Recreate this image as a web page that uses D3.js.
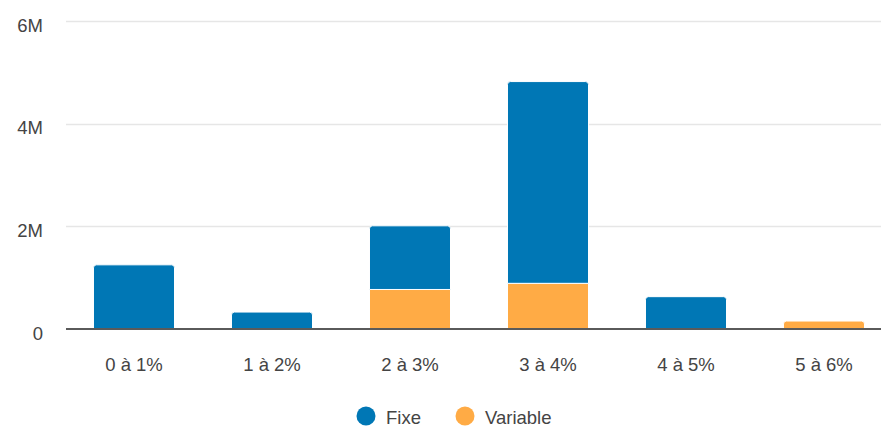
<!DOCTYPE html>
<html>
<head>
<meta charset="utf-8">
<script src="https://cdn.jsdelivr.net/npm/d3@7"></script>
<style>
  html, body { margin: 0; padding: 0; background: #fff; }
  svg { display: block; font-family: "Liberation Sans", Arial, Helvetica, sans-serif; }
</style>
</head>
<body>
<svg id="chart" width="881" height="434"></svg>
<script>
// Rate brackets and amounts per rate type
const categories = ["0 à 1%", "1 à 2%", "2 à 3%", "3 à 4%", "4 à 5%", "5 à 6%"];
const fixe = [1250000, 330000, 1240000, 3930000, 630000, 0];
const variable = [0, 0, 770000, 890000, 0, 155000];
const seriesNames = ["Fixe", "Variable"];
const seriesColors = ["#0077b5", "#ffab45"];
const yTicks = [0, 2000000, 4000000, 6000000];
const yTickLabels = ["0", "2M", "4M", "6M"];

const svg = d3.select("#chart");

const x = d3.scaleBand()
  .domain(categories)
  .range([65, 893])
  .paddingInner(0.413)
  .paddingOuter(0.2065);

const y = d3.scaleLinear()
  .domain([0, 6000000])
  .range([329, 21]);

// Gridlines
svg.append("g")
  .selectAll("line")
  .data(yTicks.filter(d => d > 0))
  .join("line")
  .attr("x1", 66).attr("x2", 881)
  .attr("y1", d => Math.round(y(d)) + 0.5)
  .attr("y2", d => Math.round(y(d)) + 0.5)
  .attr("stroke", "#e6e6e6")
  .attr("stroke-width", 1.5);

// Y axis labels
const yAxis = d3.axisLeft(y)
  .tickValues(yTicks)
  .tickFormat((d, i) => yTickLabels[i])
  .tickSize(0)
  .tickPadding(0);

svg.append("g")
  .attr("transform", "translate(43,0)")
  .call(yAxis)
  .call(g => g.select(".domain").remove())
  .call(g => g.selectAll("text")
    .attr("font-size", 18.5)
    .attr("font-family", "'Liberation Sans', Arial, sans-serif")
    .attr("fill", "#444")
    .attr("dy", "0.55em"));

// Stacked data
const rows = categories.map((c, i) => ({ cat: c, Fixe: fixe[i], Variable: variable[i] }));
const stack = d3.stack().keys(["Variable", "Fixe"]);
const layers = stack(rows);
const colorOf = { Fixe: seriesColors[0], Variable: seriesColors[1] };

// Path for a bar segment, with rounded top corners when it is the top of the stack
function barPath(x0, y0, w, h, rounded) {
  const r = rounded ? Math.min(3, h / 2) : 0;
  const x1 = x0 + w, y1 = y0 + h;
  return `M${x0},${y1}V${y0 + r}Q${x0},${y0} ${x0 + r},${y0}H${x1 - r}Q${x1},${y0} ${x1},${y0 + r}V${y1}Z`;
}

layers.forEach(layer => {
  const key = layer.key;
  svg.append("g")
    .selectAll("path")
    .data(layer.filter(d => d[1] - d[0] > 0))
    .join("path")
    .attr("d", d => {
      const top = y(d[1]), bottom = y(d[0]);
      const isTop = d[1] >= d.data.Fixe + d.data.Variable;
      return barPath(x(d.data.cat), top, x.bandwidth(), bottom - top, isTop);
    })
    .attr("fill", colorOf[key])
    .attr("stroke", "#fff")
    .attr("stroke-width", 1);
});

// Baseline
svg.append("line")
  .attr("x1", 66).attr("x2", 881)
  .attr("y1", y(0)).attr("y2", y(0))
  .attr("stroke", "#5a5a5a")
  .attr("stroke-width", 2);

// X axis labels
const xAxis = d3.axisBottom(x).tickSize(0).tickPadding(0);
svg.append("g")
  .attr("transform", "translate(0,371)")
  .call(xAxis)
  .call(g => g.select(".domain").remove())
  .call(g => g.selectAll("text")
    .attr("y", 0)
    .attr("dy", 0)
    .attr("font-size", 18.5)
    .attr("font-family", "'Liberation Sans', Arial, sans-serif")
    .attr("fill", "#444"));

// Legend
const legendX = [366, 465];
const legend = svg.append("g");
seriesNames.forEach((name, i) => {
  legend.append("circle")
    .attr("cx", legendX[i]).attr("cy", 416).attr("r", 9.5)
    .attr("fill", seriesColors[i]);
  legend.append("text")
    .attr("x", legendX[i] + 20).attr("y", 424)
    .attr("font-size", 18.5)
    .attr("fill", "#444")
    .text(name);
});
</script>
</body>
</html>
